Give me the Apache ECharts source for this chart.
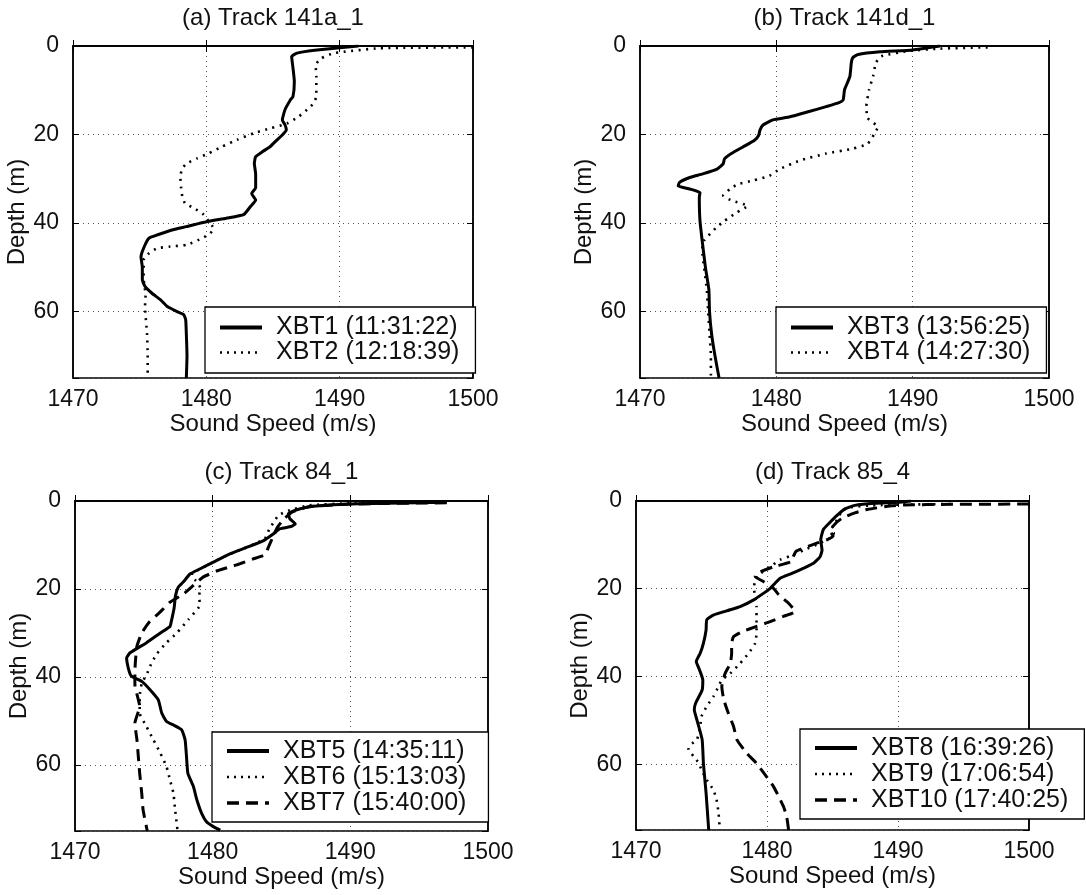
<!DOCTYPE html>
<html>
<head>
<meta charset="utf-8">
<script src="https://cdn.jsdelivr.net/npm/echarts@6/dist/echarts.min.js"></script>
<style>
html,body{margin:0;padding:0;background:#fff;}
#chart{width:1086px;height:895px;}
</style>
</head>
<body>
<div id="chart"></div>
<script>
// ---------------- DATA (sound speed m/s, depth m) ----------------
const xTicks = [1470, 1480, 1490, 1500];
const depthTicks = [0, 20, 40, 60];
const panelTitles = ['(a) Track 141a_1', '(b) Track 141d_1', '(c) Track 84_1', '(d) Track 85_4'];
const xName = 'Sound Speed (m/s)';
const yName = 'Depth (m)';

const xbt1Name = 'XBT1 (11:31:22)';
const xbt1 = [[1491.4,0],[1488.3,0.9],[1486.8,1.6],[1486.4,2.4],[1486.5,5],[1486.6,8],[1486.5,11.4],[1486.3,12.2],[1485.9,14.4],[1485.7,16.7],[1485.9,17.8],[1486.0,19],[1485.7,20.1],[1485.3,21.2],[1484.8,22.7],[1484.2,23.9],[1483.7,25],[1483.6,26.5],[1483.7,29],[1483.7,32],[1483.4,33.3],[1483.7,34.8],[1483.3,36.3],[1482.8,38.1],[1481.5,38.9],[1480.0,39.7],[1478.5,40.8],[1477.5,41.5],[1476.3,42.7],[1475.7,43.4],[1475.35,45.3],[1475.1,47.6],[1475.2,50],[1475.2,52.8],[1475.4,54.3],[1475.9,55.8],[1476.55,57.3],[1477.05,58.8],[1477.8,60],[1478.3,60.7],[1478.45,61.8],[1478.5,65],[1478.55,70],[1478.5,75]];

const xbt2Name = 'XBT2 (12:18:39)';
const xbt2 = [[1500,0.3],[1493,0.5],[1489.6,1.6],[1488.6,2.8],[1488.2,4.3],[1488.25,6.9],[1488.25,11.4],[1488.05,12.9],[1487.55,14.4],[1486.9,16],[1486.05,17.5],[1484.8,18.6],[1483.55,19.7],[1482.3,21.2],[1481.2,22.7],[1480.2,24.2],[1479.3,25.4],[1478.55,26.5],[1478.2,27.6],[1478.05,29.5],[1478.1,31.8],[1478.2,34],[1478.4,35.5],[1479.05,36.6],[1479.8,38.1],[1480.2,39.7],[1480.55,41.2],[1480.3,42.3],[1479.7,43.4],[1478.55,44.9],[1477.3,45.3],[1476.3,45.7],[1475.7,46.8],[1475.3,48.3],[1475.3,52],[1475.35,54.3],[1475.45,55.8],[1475.4,58.8],[1475.55,64.9],[1475.6,69.4],[1475.6,75]];

const xbt3Name = 'XBT3 (13:56:25)';
const xbt3 = [[1492,0],[1490,0.9],[1487.6,1.3],[1486,1.9],[1485.6,2.65],[1485.5,3.8],[1485.4,6.8],[1485.2,8.4],[1485,9.9],[1484.9,12.2],[1484.6,12.8],[1483.65,13.7],[1482.4,14.8],[1481,16],[1479.75,16.7],[1479.0,17.9],[1478.8,19],[1478.7,20.2],[1478.4,21.3],[1477.55,22.8],[1476.7,24.3],[1476.2,25.5],[1476.1,26.6],[1475.65,27.8],[1474.6,28.9],[1473.65,29.7],[1472.9,30.8],[1472.8,31.6],[1473.65,32.3],[1474.4,33.1],[1474.35,34.2],[1474.4,39.5],[1474.6,45],[1474.8,50],[1475.05,55],[1475.1,60],[1475.25,65],[1475.5,70],[1475.8,75]];

const xbt4Name = 'XBT4 (14:27:30)';
const xbt4 = [[1495.5,0.3],[1492,0.6],[1489.75,1.1],[1487.7,2.3],[1487.3,3.8],[1487.1,6.8],[1486.8,9.9],[1486.6,13.7],[1486.7,16.3],[1487.45,18.3],[1487.2,19.8],[1486.7,22.1],[1485.6,23.2],[1483.65,24.3],[1481.7,25.9],[1480.25,27.8],[1479.5,29.3],[1478.3,30.4],[1477.2,31.2],[1476.6,32.3],[1476.1,33.8],[1476.8,35],[1477.9,36.1],[1477.1,37.6],[1476.2,39.5],[1475.6,41],[1475.0,42.9],[1474.7,44],[1474.55,46],[1474.7,50],[1474.9,55],[1475.0,60],[1475.1,65],[1475.2,70],[1475.2,75]];

const xbt5Name = 'XBT5 (14:35:11)';
const xbt5 = [[1497,0.3],[1490.6,0.6],[1487.3,1.2],[1486,2.1],[1485.5,2.9],[1485.6,4],[1486,5.2],[1485.7,5.8],[1484.9,6.3],[1484.4,7.5],[1483.7,9],[1482.5,10.5],[1481.25,12],[1480.05,13.9],[1479.1,15.4],[1478.35,16.6],[1477.9,18.3],[1477.5,19.6],[1477.3,21.5],[1477.2,24.3],[1477.0,27.3],[1476.9,28.5],[1476.2,30],[1475.2,32.2],[1474.0,34.5],[1473.75,35.7],[1473.9,38.3],[1474.1,39.8],[1474.85,41],[1475.45,42.9],[1476.05,45.2],[1476.3,48.2],[1476.65,50.1],[1477.15,50.9],[1477.75,52],[1478.0,54.3],[1478.1,58.1],[1478.2,61.9],[1478.6,64.9],[1478.85,67.9],[1479.2,71],[1479.55,72.9],[1480.05,74],[1480.55,74.8]];

const xbt6Name = 'XBT6 (15:13:03)';
const xbt6 = [[1497,0.2],[1490,0.5],[1487,1.0],[1485.5,2.2],[1484.8,3.2],[1484.5,4.5],[1484.1,6.5],[1483.8,8.5],[1482.6,10.4],[1481.3,12],[1480.1,13.8],[1479.2,15.3],[1478.5,16.5],[1478.5,17.3],[1478.8,18.2],[1479.1,19.7],[1479.0,22],[1479.1,23.5],[1478.25,26.9],[1477.4,30],[1476.65,32.2],[1475.9,34.9],[1475.45,37.6],[1475.2,39.5],[1474.85,41.4],[1474.7,44.4],[1474.7,48.2],[1475.2,51.3],[1475.7,54.3],[1476.2,57.3],[1476.65,60.4],[1476.9,63.4],[1477.15,66.4],[1477.25,69.5],[1477.45,75]];

const xbt7Name = 'XBT7 (15:40:00)';
const xbt7 = [[1497,0.4],[1490,0.7],[1487,1.3],[1485.8,2.5],[1485.2,4],[1484.7,6],[1484.4,8],[1484.05,10.5],[1483.8,12.2],[1482.9,13.2],[1481.75,14.5],[1480.4,15.8],[1479.3,17.3],[1478.6,19.2],[1477.9,21.1],[1476.9,23],[1476.1,25.5],[1475.4,27.5],[1474.85,30],[1474.5,33],[1474.4,36],[1474.35,38.8],[1474.35,41.7],[1474.7,46.7],[1474.35,50.5],[1474.5,54.3],[1474.6,58.1],[1474.7,61.9],[1474.85,66.5],[1474.95,70.3],[1475.25,75]];

const xbt8Name = 'XBT8 (16:39:26)';
const xbt8 = [[1491,0],[1490,0.3],[1488.2,0.5],[1486.7,1],[1485.9,1.9],[1485.3,3.4],[1484.8,4.9],[1484.3,6.5],[1484.1,8.9],[1484.2,11.2],[1484.05,12.7],[1483.55,14.2],[1482.8,15.3],[1481.9,16.5],[1481.0,17.6],[1480.6,18.8],[1480.25,19.9],[1479.75,21],[1478.95,22.6],[1477.95,24.1],[1477.2,24.8],[1475.9,26],[1475.4,27.1],[1475.35,29.4],[1475.15,32.4],[1474.9,34.7],[1474.6,36.6],[1474.85,38.5],[1475.1,40.8],[1475.05,43.1],[1474.55,46.1],[1474.45,47.6],[1474.65,49.9],[1475.05,54.4],[1475.15,60],[1475.35,66.6],[1475.55,75]];

const xbt9Name = 'XBT9 (17:06:54)';
const xbt9 = [[1494,0.7],[1491,0.8],[1488,1.0],[1486.2,1.5],[1485.7,2.2],[1485.5,3.5],[1485.2,5],[1484.9,6.5],[1485.1,7.3],[1485.0,8.1],[1484.05,9.6],[1482.8,11.2],[1482.0,12.3],[1481.0,13.4],[1480.25,15],[1479.5,16.5],[1479.1,18],[1479.0,19.9],[1479.1,21.8],[1479.2,24.1],[1479.2,27.1],[1479.2,30.1],[1479.1,32.4],[1478.6,34.7],[1477.95,37],[1477.2,39.3],[1476.55,40.8],[1476.3,42.3],[1475.9,44.6],[1475.4,46.8],[1475.0,49.1],[1474.9,51.4],[1474.65,54.4],[1474.15,55.6],[1474.0,56.7],[1474.4,58.2],[1474.8,59.8],[1475.0,61.3],[1475.4,63.6],[1475.9,65.8],[1476.15,68.1],[1476.3,71.1],[1476.4,75]];

const xbt10Name = 'XBT10 (17:40:25)';
const xbt10 = [[1500,0.7],[1494,0.75],[1490.4,0.9],[1489.5,1.1],[1487.7,1.9],[1486.7,2.7],[1485.8,3.8],[1485.3,4.9],[1484.8,6.8],[1485.05,8],[1484.6,8.8],[1483.9,9.5],[1482.9,10.6],[1482.25,11.4],[1482.0,12.7],[1481.9,13.8],[1480.5,15],[1479.2,16.5],[1479.1,17.2],[1479.75,18.4],[1480.5,19.9],[1480.9,21.4],[1481.65,23.3],[1482.15,25.2],[1481.25,26.3],[1480.25,27.5],[1479.2,28.6],[1478.1,29.8],[1477.45,30.9],[1477.3,32.4],[1477.3,34.7],[1477.2,37],[1476.8,39.3],[1476.55,42.3],[1476.7,45.3],[1477.05,48.4],[1477.45,51.4],[1477.7,54.4],[1478.45,57.5],[1479.2,59.8],[1479.75,62],[1480.5,65.1],[1480.9,67.4],[1481.25,69.6],[1481.5,71.9],[1481.65,75]];

// ---------------- LAYOUT / STYLE ----------------
const FONT = "'Liberation Sans', Arial, Helvetica, sans-serif";
const INK = '#111';
const grids = [
  {left: 73, top: 46, width: 400, height: 332},
  {left: 640, top: 46, width: 409, height: 332},
  {left: 75, top: 501, width: 413, height: 330},
  {left: 636, top: 501, width: 393, height: 329}
];
const styles = {
  solid: {color: '#000', width: 3, type: 'solid'},
  dotted: {color: '#000', width: 2.6, type: [2, 5.5]},
  dashed: {color: '#000', width: 3, type: [12, 7]}
};
const legendLine = {
  solid: {color: '#000', width: 4, type: 'solid'},
  dotted: {color: '#000', width: 2.6, type: [2, 5]},
  dashed: {color: '#000', width: 3.5, type: [12, 7]}
};
const panels = [
  {series: [[xbt1Name, xbt1, 'solid'], [xbt2Name, xbt2, 'dotted']], legend: {left: 205, top: 307, lh: 23, pad: [8, 16, 8, 13]}},
  {series: [[xbt3Name, xbt3, 'solid'], [xbt4Name, xbt4, 'dotted']], legend: {left: 776, top: 307, lh: 23, pad: [8, 16, 8, 13]}},
  {series: [[xbt5Name, xbt5, 'solid'], [xbt6Name, xbt6, 'dotted'], [xbt7Name, xbt7, 'dashed']], legend: {left: 212, top: 732, lh: 26, pad: [6, 22, 6, 13]}},
  {series: [[xbt8Name, xbt8, 'solid'], [xbt9Name, xbt9, 'dotted'], [xbt10Name, xbt10, 'dashed']], legend: {left: 800, top: 729, lh: 26, pad: [6, 16, 6, 13]}}
];

const option = {
  animation: false,
  backgroundColor: '#fff',
  textStyle: {fontFamily: FONT, color: INK},
  grid: [], xAxis: [], yAxis: [], series: [], legend: [], graphic: []
};

const labelStyle = {fontSize: 23, color: INK, fontFamily: FONT};
const split = {show: true, lineStyle: {color: '#555', width: 1, type: [1, 4]}};

grids.forEach((g, i) => {
  option.grid.push(Object.assign({show: true, borderColor: '#000', borderWidth: 1.5, backgroundColor: 'transparent'}, g));
  option.xAxis.push({
    type: 'value', gridIndex: i, min: xTicks[0], max: xTicks[xTicks.length - 1], interval: 10,
    position: 'bottom',
    axisLine: {show: true, lineStyle: {color: '#000', width: 1.5}},
    axisTick: {show: true, inside: true, length: 6, lineStyle: {color: '#000'}},
    axisLabel: Object.assign({margin: 10, formatter: v => String(v)}, labelStyle),
    splitLine: split,
    name: xName, nameLocation: 'middle', nameGap: 32,
    nameTextStyle: {fontSize: 24, color: INK, fontFamily: FONT}
  });
  option.xAxis.push({
    type: 'value', gridIndex: i, min: xTicks[0], max: xTicks[xTicks.length - 1], interval: 10,
    position: 'top',
    axisLine: {show: true, lineStyle: {color: '#000', width: 1.5}},
    axisTick: {show: true, inside: true, length: 6, lineStyle: {color: '#000'}},
    axisLabel: {show: false}, splitLine: {show: false}
  });
  option.yAxis.push({
    type: 'value', gridIndex: i, min: 0, max: 75, interval: 20, inverse: true,
    position: 'left',
    axisLine: {show: true, lineStyle: {color: '#000', width: 1.5}},
    axisTick: {show: true, inside: true, length: 6, lineStyle: {color: '#000'}},
    axisLabel: Object.assign({margin: 14, formatter: v => (depthTicks.indexOf(v) >= 0 ? String(v) : '')}, labelStyle),
    splitLine: split,
    name: yName, nameLocation: 'middle', nameRotate: 90, nameGap: 38,
    nameTextStyle: {fontSize: 24, color: INK, fontFamily: FONT}
  });
  option.yAxis.push({
    type: 'value', gridIndex: i, min: 0, max: 75, interval: 20, inverse: true,
    position: 'right',
    axisLine: {show: true, lineStyle: {color: '#000', width: 1.5}},
    axisTick: {show: true, inside: true, length: 6, lineStyle: {color: '#000'}},
    axisLabel: {show: false}, splitLine: {show: false}
  });
  option.graphic.push({
    type: 'text', x: g.left + g.width / 2, y: g.top - (i < 2 ? 28 : 29), z: 100,
    style: {text: panelTitles[i], fill: INK, font: '24px ' + FONT, textAlign: 'center', textVerticalAlign: 'middle'}
  });

  const p = panels[i];
  p.series.forEach(([name, data, st]) => {
    option.series.push({
      name: name, type: 'line', xAxisIndex: 2 * i, yAxisIndex: 2 * i,
      data: data, symbol: 'none', showSymbol: false, smooth: 0.15,
      lineStyle: Object.assign({cap: 'butt', join: 'round'}, styles[st]),
      itemStyle: {color: '#000'}, emphasis: {disabled: true}, clip: true, z: st === 'solid' ? 3 : 2
    });
  });
  option.legend.push({
    data: p.series.map(s => ({name: s[0], lineStyle: legendLine[s[2]]})),
    orient: 'vertical', left: p.legend.left, top: p.legend.top,
    padding: p.legend.pad, itemWidth: 42, itemHeight: 14, itemGap: 0,
    selectedMode: false, backgroundColor: '#fff', borderColor: '#000', borderWidth: 1.3, z: 10,
    itemStyle: {color: 'rgba(0,0,0,0)', borderColor: 'rgba(0,0,0,0)', borderWidth: 0, opacity: 0},
    textStyle: {fontSize: 25, color: INK, fontFamily: FONT, lineHeight: p.legend.lh, padding: [0, 0, 0, 9]}
  });
});

const chart = echarts.init(document.getElementById('chart'), null, {renderer: 'canvas'});
chart.setOption(option);
</script>
</body>
</html>
